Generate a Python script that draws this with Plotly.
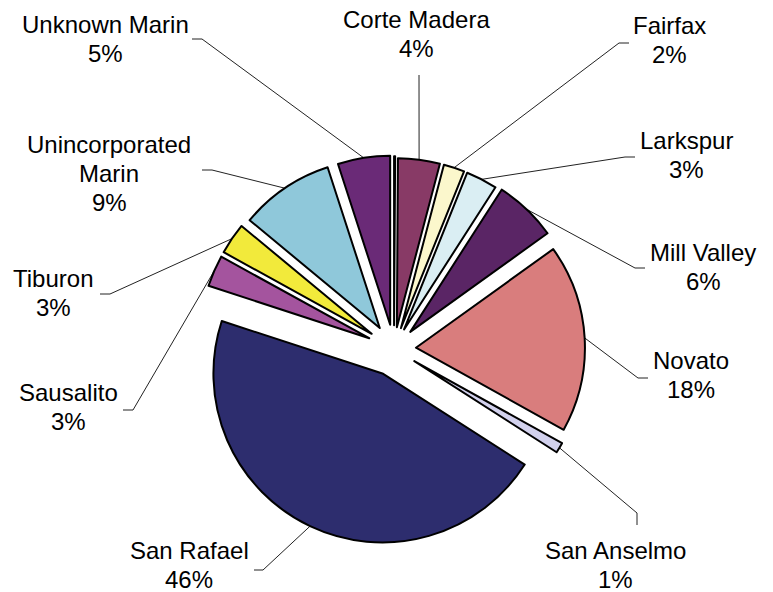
import math
import plotly.graph_objects as go

# ---------------- data ----------------
categories = ["Belvedere", "Corte Madera", "Fairfax", "Larkspur", "Mill Valley",
              "Novato", "San Anselmo", "San Rafael", "Sausalito", "Tiburon",
              "Unincorporated Marin", "Unknown Marin"]
values = [0.1, 4, 2, 3, 6, 18, 1, 46, 3, 3, 9, 5]
labelled = ["Corte Madera", "Fairfax", "Larkspur", "Mill Valley", "Novato",
            "San Anselmo", "San Rafael", "Sausalito", "Tiburon",
            "Unincorporated Marin", "Unknown Marin"]

# ---------------- style ----------------
colors = ["#1a1a1a", "#883a66", "#fbf7cc", "#daeef3", "#5a2565", "#d97d7d",
          "#d2d1ed", "#2d2d6e", "#a4549e", "#f2ea3b", "#8fc8da", "#6a2a77"]
pulls = [0.14, 0.13, 0.13, 0.13, 0.14, 0.13, 0.14, 0.16, 0.16, 0.16, 0.15, 0.145]

W, H = 773, 592
CX, CY, R = 394, 349, 169          # pie centre / radius in pixels
FONT = dict(family="Liberation Sans, Arial, sans-serif", size=24, color="#000000")
LINE_GAP = 29

# label placement (x centre, first baseline) and leader-line points near label
label_pos = {
    "Corte Madera": (416, 27),
    "Fairfax": (669, 33),
    "Larkspur": (686, 148),
    "Mill Valley": (703, 260),
    "Novato": (691, 368),
    "San Anselmo": (615, 558),
    "San Rafael": (189, 558),
    "Sausalito": (68, 400),
    "Tiburon": (53, 286),
    "Unincorporated Marin": (109, 152),
    "Unknown Marin": (105, 32),
}
leader_pts = {
    "Corte Madera": [(419, 75)],
    "Fairfax": [(629, 43), (619, 43)],
    "Larkspur": [(635, 157), (625, 157)],
    "Mill Valley": [(645, 268), (635, 268)],
    "Novato": [(648, 378), (638, 378)],
    "San Anselmo": [(637, 525), (637, 513)],
    "San Rafael": [(254, 570), (263, 570)],
    "Sausalito": [(123, 410), (133, 410)],
    "Tiburon": [(100, 294), (110, 294)],
    "Unincorporated Marin": [(202, 170), (212, 170)],
    "Unknown Marin": [(192, 39), (202, 39)],
}

maxpull = max(pulls)
half = R * (1 + maxpull)
dom_x = [(CX - half) / W, (CX + half) / W]
dom_y = [(H - CY - half) / H, (H - CY + half) / H]

fig = go.Figure()

# leader lines (drawn on a hidden pixel-coordinate axis)
total = sum(values)
cum = 0.0
for cat, v, p in zip(categories, values, pulls):
    mid = (cum + v / 2) / total * 2 * math.pi
    cum += v
    if cat not in labelled:
        continue
    d = R * (1 + p)
    ex = CX + d * math.sin(mid)
    ey = CY - d * math.cos(mid)
    pts = leader_pts[cat] + [(ex, ey)]
    fig.add_trace(go.Scatter(
        x=[q[0] for q in pts], y=[q[1] for q in pts], mode="lines",
        line=dict(color="#222222", width=1), hoverinfo="skip", showlegend=False))
    # label text
    pct = round(v / total * 100)
    name_lines = cat.split(" ") if cat == "Unincorporated Marin" else [cat]
    lines = name_lines + [f"{pct}%"]
    lx, lb = label_pos[cat]
    for i, t in enumerate(lines):
        fig.add_annotation(x=lx, y=lb + i * LINE_GAP - 8, xref="x", yref="y",
                           text=t, showarrow=False, xanchor="center",
                           yanchor="middle", font=FONT, borderpad=0)

fig.add_trace(go.Pie(
    labels=categories, values=values, sort=False, direction="clockwise",
    rotation=0, pull=pulls, textinfo="none", hoverinfo="label+percent",
    marker=dict(colors=colors, line=dict(color="#000000", width=2)),
    domain=dict(x=dom_x, y=dom_y), showlegend=False))

fig.update_layout(
    width=W, height=H, margin=dict(l=0, r=0, t=0, b=0),
    paper_bgcolor="white", plot_bgcolor="white",
    xaxis=dict(range=[0, W], visible=False, domain=[0, 1], fixedrange=True),
    yaxis=dict(range=[H, 0], visible=False, domain=[0, 1], fixedrange=True),
    showlegend=False,
)

fig.write_html("out.html",
               config={"displayModeBar": False},
               post_script="document.body.style.margin='0px';"
                           "document.body.style.overflow='hidden';")
